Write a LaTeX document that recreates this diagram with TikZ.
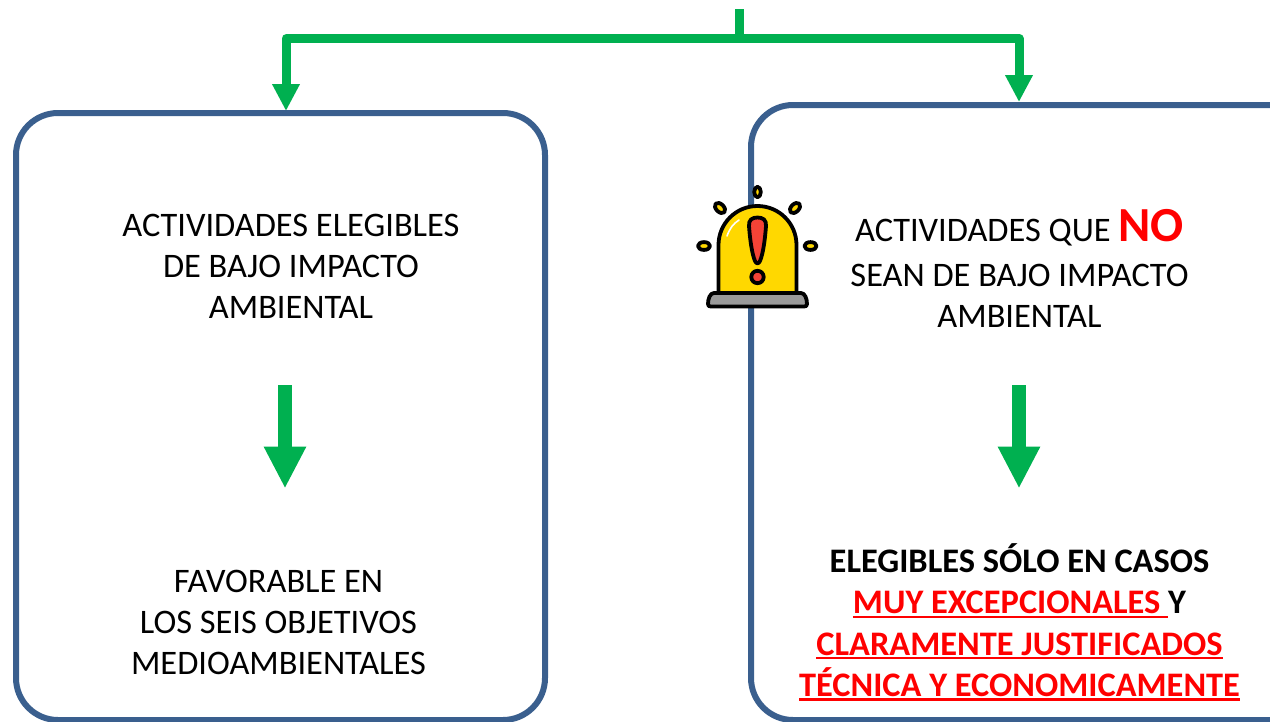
\documentclass[tikz,border=0pt]{standalone}
\usepackage{fontspec}
\setmainfont{Carlito}
\usetikzlibrary{arrows.meta}
\definecolor{flow}{HTML}{00B050}
\definecolor{frameblue}{HTML}{3A5F8E}
\definecolor{bellyellow}{HTML}{FFD800}
\definecolor{bellred}{HTML}{F44336}
\definecolor{bellgrey}{HTML}{9A9A9A}
\newcommand\redul[1]{\sbox0{\color{red}#1}\rlap{\raisebox{-4pt}{\color{red}\rule{\wd0}{2.1pt}}}\usebox0}
\tikzset{
  framebox/.style={draw=frameblue,line width=6pt,rounded corners=42pt,fill=none,inner sep=0pt},
  flowline/.style={draw=flow,line width=9pt},
  bigflow/.style={draw=flow,line width=14pt,-{Triangle[length=42pt,width=39.5pt]}},
  thinflow/.style={flowline,-{Triangle[length=27pt,width=26pt]}},
  plainlines/.style={font=\fontsize{34.4}{41}\selectfont,align=center,inner sep=0pt,anchor=base},
  boldlines/.style={font=\fontsize{34.4}{41.4}\selectfont\bfseries,align=center,inner sep=0pt,anchor=base},
  bellpart/.style={draw=black,line width=3.8pt,line join=round},
}
\begin{document}
\begin{tikzpicture}[x=1pt,y=-1pt]
\useasboundingbox (0,0) rectangle (1270,721);
\clip (0,0) rectangle (1270,721);
% frames
\node[framebox,minimum width=529pt,minimum height=607pt] (leftbox) at (280.5,416.5) {};
\node[framebox,minimum width=640pt,minimum height=615pt] (rightbox) at (1071,412.5) {};
% top connectors
\coordinate (source) at (739,9);
\coordinate (split) at (739,38.5);
\coordinate (leftend) at (286,111);
\coordinate (rightend) at (1019,102);
\draw[flowline] (source) -- (split);
\draw[thinflow,line join=round] (split) -| (leftend);
\draw[thinflow,line join=round] (split) -| (rightend);
% texts
\node[plainlines] (lefttop) at (291,318.3) {ACTIVIDADES ELEGIBLES\\DE BAJO IMPACTO\\AMBIENTAL};
\node[plainlines] (leftbottom) at (278.5,674.7) {FAVORABLE EN\\LOS SEIS OBJETIVOS\\MEDIOAMBIENTALES};
\node[plainlines] (righttop) at (1019.5,327) {ACTIVIDADES QUE {\fontsize{49}{41}\selectfont\bfseries\color{red}NO}\\[4pt]SEAN DE BAJO IMPACTO\\AMBIENTAL};
\node[boldlines] (rightbottom) at (1019.5,696.5) {ELEGIBLES SÓLO EN CASOS\\\redul{MUY EXCEPCIONALES\ }Y\\\redul{CLARAMENTE JUSTIFICADOS}\\\redul{TÉCNICA Y ECONOMICAMENTE}};
% inner arrows
\coordinate (leftstart) at (285,385);
\coordinate (leftstop) at (285,488.5);
\coordinate (rightstart) at (1019,385);
\coordinate (rightstop) at (1019,488.5);
\draw[bigflow] (leftstart) -- (leftstop);
\draw[bigflow] (rightstart) -- (rightstop);
% alarm bell
\draw[bellpart,fill=bellyellow] (718.5,294) -- (718.5,245) arc[start angle=180,end angle=360,x radius=39,y radius=39] -- (796.5,294) -- cycle;
\draw[white,line width=1.6pt,line cap=round] (727,236) .. controls (730,228) and (733,224) .. (739,220);
\draw[bellpart,fill=bellgrey] (714,293) -- (801,293) .. controls (805,293) and (807,299) .. (807,304) .. controls (807,306) and (806,306.5) .. (804,306.5) -- (711,306.5) .. controls (709,306.5) and (708,306) .. (708,304) .. controls (708,299) and (710,293) .. (714,293) -- cycle;
\draw[bellpart,fill=bellred] (757.5,217.5) .. controls (752,217.5) and (748.5,220) .. (749,226) .. controls (750,240) and (752,254) .. (755,261) .. controls (756,264) and (759,264) .. (760,261) .. controls (763,254) and (765,240) .. (766,226) .. controls (766.5,220) and (763,217.5) .. (757.5,217.5) -- cycle;
\draw[bellpart,fill=bellred] (757.5,277) circle[radius=6.2];
\draw[bellpart,fill=bellyellow] (757.5,192) ellipse[x radius=3.3,y radius=5.2];
\draw[bellpart,fill=bellyellow] (704,246) ellipse[x radius=6.1,y radius=3.9];
\draw[bellpart,fill=bellyellow] (810.5,246) ellipse[x radius=6.1,y radius=3.9];
\draw[bellpart,fill=bellyellow,rotate around={-45:(720,208)}] (720,208) ellipse[x radius=6.1,y radius=3.9];
\draw[bellpart,fill=bellyellow,rotate around={45:(795,208)}] (795,208) ellipse[x radius=6.1,y radius=3.9];
\end{tikzpicture}
\end{document}
